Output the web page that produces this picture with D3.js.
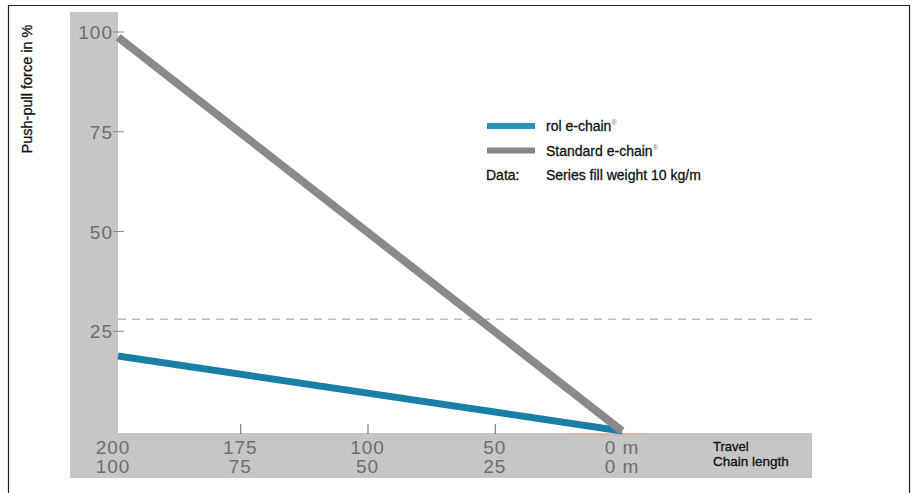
<!DOCTYPE html>
<html>
<head>
<meta charset="utf-8">
<script src="https://cdn.jsdelivr.net/npm/d3@7"></script>
<style>
  body { margin: 0; background: #fff; }
  svg { display: block; font-family: "Liberation Sans", Arial, sans-serif; }
</style>
</head>
<body>
<svg id="drawing_region"></svg>
<script>
// categories along the x axis (two label rows)
const travelLabels = ["200", "175", "100", "50", "0 m"];
const chainLabels = ["100", "75", "50", "25", "0 m"];
const yTicks = [25, 50, 75, 100];

// series: value at start (200) and at end (0 m)
const rolValues = [{cat: "200", v: 18.8}, {cat: "0 m", v: 0}];
const standardValues = [{cat: "200", v: 98.7}, {cat: "0 m", v: 0}];
const referenceLevel = 28;

const legendItems = [
    {label: "rol e-chain", sup: "®", color: "#2a93ba"},
    {label: "Standard e-chain", sup: "®", color: "#858585"}
];

const width = 915, height = 493;

const svg = d3.select('#drawing_region')
    .attr('width', width)
    .attr('height', height);

// frame
svg.append('path')
    .attr('d', `M8.5,${height} L8.5,5.5 L909.5,5.5 L909.5,${height}`)
    .attr('fill', 'none')
    .attr('stroke', '#222')
    .attr('stroke-width', 1.2);

const xscale = d3.scalePoint()
    .domain(travelLabels)
    .range([113, 622]);

const yscale = d3.scaleLinear()
    .domain([0, 100])
    .range([431, 32]);

// grey axis bands
svg.append('rect')
    .attr('x', 70).attr('y', 12)
    .attr('width', 48).attr('height', 466)
    .attr('fill', '#c6c6c6');
svg.append('rect')
    .attr('x', 70).attr('y', 433)
    .attr('width', 742).attr('height', 45)
    .attr('fill', '#c6c6c6');

const tickFont = {size: '19px', color: '#6e6e6e', spacing: '1px'};
const labelFont = {size: '14px', color: '#111'};

// y axis labels and ticks
const yaxis = svg.append('g');
yaxis.selectAll('text')
    .data(yTicks)
    .enter()
    .append('text')
    .attr('x', 113)
    .attr('y', d => yscale(d) + 7)
    .attr('text-anchor', 'end')
    .attr('font-size', tickFont.size)
    .attr('letter-spacing', tickFont.spacing)
    .attr('fill', tickFont.color)
    .text(d => d);
yaxis.selectAll('line')
    .data(yTicks)
    .enter()
    .append('line')
    .attr('x1', 113).attr('x2', 124)
    .attr('y1', d => yscale(d)).attr('y2', d => yscale(d))
    .attr('stroke', '#888')
    .attr('stroke-width', 1);

// x axis labels (two rows) and ticks
const xaxis = svg.append('g');
xaxis.selectAll('text.travel')
    .data(travelLabels)
    .enter()
    .append('text')
    .attr('class', 'travel')
    .attr('x', d => xscale(d))
    .attr('y', 454)
    .attr('text-anchor', 'middle')
    .attr('font-size', tickFont.size)
    .attr('letter-spacing', tickFont.spacing)
    .attr('fill', tickFont.color)
    .text(d => d);
xaxis.selectAll('text.chain')
    .data(chainLabels)
    .enter()
    .append('text')
    .attr('class', 'chain')
    .attr('x', (d, i) => xscale(travelLabels[i]))
    .attr('y', 473)
    .attr('text-anchor', 'middle')
    .attr('font-size', tickFont.size)
    .attr('letter-spacing', tickFont.spacing)
    .attr('fill', tickFont.color)
    .text(d => d);
xaxis.selectAll('line')
    .data(travelLabels.slice(1, -1))
    .enter()
    .append('line')
    .attr('x1', d => xscale(d) + 0.5).attr('x2', d => xscale(d) + 0.5)
    .attr('y1', 424).attr('y2', 434)
    .attr('stroke', '#666')
    .attr('stroke-width', 1);

svg.append('text')
    .attr('x', 713).attr('y', 451)
    .attr('font-size', '13px').attr('fill', labelFont.color)
    .attr('stroke', labelFont.color).attr('stroke-width', 0.3)
    .text('Travel');
svg.append('text')
    .attr('x', 713).attr('y', 466)
    .attr('font-size', '13.5px').attr('fill', labelFont.color)
    .attr('stroke', labelFont.color).attr('stroke-width', 0.3)
    .text('Chain length');

// dashed reference line
svg.append('line')
    .attr('x1', 118).attr('x2', 814)
    .attr('y1', yscale(referenceLevel)).attr('y2', yscale(referenceLevel))
    .attr('stroke', '#bdbdbd')
    .attr('stroke-width', 1.6)
    .attr('stroke-dasharray', '8,6');

// small baseline marker at the end point
svg.append('line')
    .attr('x1', 567).attr('x2', 645)
    .attr('y1', 434.5).attr('y2', 434.5)
    .attr('stroke', '#d9b3a3')
    .attr('stroke-width', 2);

const line = d3.line()
    .x(d => Math.max(118, xscale(d.cat)))
    .y(d => yscale(d.v));

svg.append('path')
    .datum(rolValues)
    .attr('d', line)
    .attr('fill', 'none')
    .attr('stroke', '#1a7fa7')
    .attr('stroke-width', 7);

svg.append('path')
    .datum(standardValues)
    .attr('d', line)
    .attr('fill', 'none')
    .attr('stroke', '#8a8a8a')
    .attr('stroke-width', 8);

// legend
const legend = svg.append('g').attr('transform', 'translate(486, 126)');
legendItems.forEach((item, i) => {
    const g = legend.append('g').attr('transform', `translate(0, ${i * 24.5})`);
    g.append('rect')
        .attr('x', 1).attr('y', -3)
        .attr('width', 48).attr('height', 6)
        .attr('fill', item.color);
    const t = g.append('text')
        .attr('x', 60).attr('y', 5)
        .attr('font-size', labelFont.size).attr('fill', labelFont.color)
        .attr('stroke', labelFont.color).attr('stroke-width', 0.3)
        .text(item.label);
    t.append('tspan')
        .attr('dy', -6)
        .attr('font-size', '7px')
        .attr('fill', '#777')
        .attr('stroke', 'none')
        .text(item.sup);
});
const dataRow = legend.append('g').attr('transform', 'translate(0, 48.5)');
dataRow.append('text')
    .attr('x', 0).attr('y', 5)
    .attr('font-size', labelFont.size).attr('fill', labelFont.color)
    .attr('stroke', labelFont.color).attr('stroke-width', 0.3)
    .text('Data:');
dataRow.append('text')
    .attr('x', 60).attr('y', 5)
    .attr('font-size', labelFont.size).attr('fill', labelFont.color)
    .attr('stroke', labelFont.color).attr('stroke-width', 0.3)
    .text('Series fill weight 10 kg/m');

// y title
svg.append('text')
    .attr('transform', 'translate(32, 89) rotate(-90)')
    .attr('text-anchor', 'middle')
    .attr('font-size', '14.5px').attr('fill', labelFont.color)
    .attr('stroke', labelFont.color).attr('stroke-width', 0.3)
    .text('Push-pull force in %');
</script>
</body>
</html>
